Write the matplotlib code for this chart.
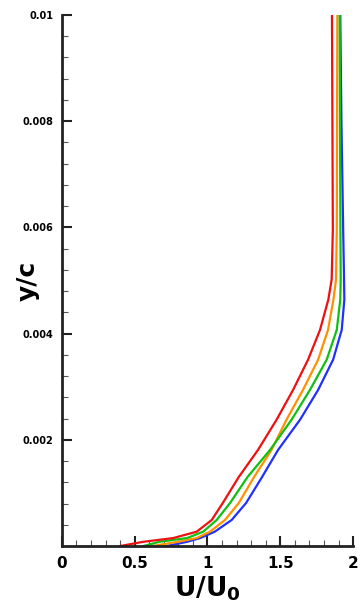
import numpy as np
import matplotlib.pyplot as plt
from matplotlib.ticker import MultipleLocator, FixedLocator

# --------------------------------------------------------------
# Data (velocity profiles)
# --------------------------------------------------------------
y_c = [0.0, 0.00008, 0.00015, 0.00027, 0.00049, 0.00081, 0.0013, 0.00181,
       0.00238, 0.00294, 0.00351, 0.00407, 0.00464, 0.00502, 0.00596,
       0.008, 0.01]

u_red = [0.40, 0.56, 0.765, 0.926, 1.029, 1.105, 1.215, 1.347,
         1.475, 1.588, 1.691, 1.773, 1.83, 1.853, 1.861, 1.858, 1.855]
u_orange = [0.62, 0.80, 0.926, 1.017, 1.12, 1.215, 1.32, 1.44,
            1.543, 1.656, 1.76, 1.828, 1.865, 1.883, 1.888, 1.89, 1.892]
u_green = [0.56, 0.67, 0.86, 0.97, 1.063, 1.155, 1.275, 1.43,
           1.578, 1.704, 1.819, 1.888, 1.912, 1.915, 1.913, 1.91, 1.908]
u_blue = [0.72, 0.86, 0.95, 1.05, 1.166, 1.265, 1.375, 1.485,
          1.636, 1.76, 1.863, 1.922, 1.94, 1.938, 1.932, 1.92, 1.912]

y_ticks = [0.002, 0.004, 0.006, 0.008, 0.01]
y_tick_labels = ["0.002", "0.004", "0.006", "0.008", "0.01"]
x_ticks = [0, 0.5, 1, 1.5, 2]
x_tick_labels = ["0", "0.5", "1", "1.5", "2"]

# --------------------------------------------------------------
# Plot
# --------------------------------------------------------------
fig = plt.figure(figsize=(3.64, 6.14), dpi=100)
ax = fig.add_axes([0.170, 0.1107, 0.800, 0.865])

ax.plot(u_blue, y_c, color="#2030ff", lw=1.6)
ax.plot(u_orange, y_c, color="#ff9000", lw=1.6)
ax.plot(u_green, y_c, color="#10c010", lw=1.6)
ax.plot(u_red, y_c, color="#ee1010", lw=1.6)

ax.set_xlim(0, 2)
ax.set_ylim(0, 0.01)

for side in ["top", "right"]:
    ax.spines[side].set_visible(False)
for side in ["left", "bottom"]:
    ax.spines[side].set_linewidth(2)
    ax.spines[side].set_color("#222222")

ax.xaxis.set_major_locator(FixedLocator(x_ticks))
ax.set_xticklabels(x_tick_labels, fontsize=11, fontweight="bold")
ax.xaxis.set_minor_locator(MultipleLocator(0.1))
ax.yaxis.set_major_locator(FixedLocator(y_ticks))
ax.set_yticklabels(y_tick_labels, fontsize=7, fontweight="bold")
ax.yaxis.set_minor_locator(MultipleLocator(0.0004))

ax.tick_params(which="major", direction="in", length=7, width=1.5, color="#222222")
ax.tick_params(which="minor", direction="in", length=4, width=0.8, color="#555555")
ax.tick_params(axis="x", pad=7)
ax.tick_params(axis="y", pad=6)

ax.set_xlabel(r"$\mathbf{U/U_0}$", fontsize=19, labelpad=3)
ax.set_ylabel("y/c", fontsize=18, fontweight="bold")
ax.yaxis.set_label_coords(-0.075, 0.50)

fig.savefig("out.png", dpi=100)
